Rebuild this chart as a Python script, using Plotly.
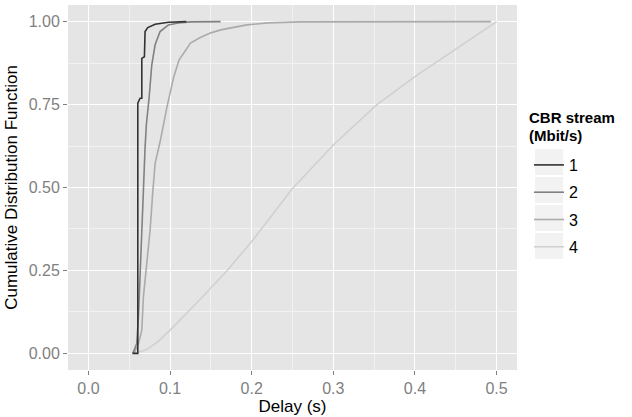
import plotly.graph_objects as go

# CDF curves (delay in s, cumulative fraction)
s1_x = [0.0539, 0.0605, 0.0605, 0.0633, 0.0654, 0.0654, 0.0686, 0.0694, 0.0727, 0.0817, 0.098, 0.12]
s1_y = [0.0, 0.0, 0.754, 0.769, 0.769, 0.889, 0.894, 0.97, 0.982, 0.992, 0.998, 1.0]

s2_x = [0.0545, 0.0592, 0.0613, 0.0633, 0.0654, 0.0674, 0.0694, 0.0710, 0.0743, 0.0776, 0.0817, 0.0878, 0.098, 0.110, 0.125, 0.162]
s2_y = [0.0, 0.03, 0.11, 0.221, 0.352, 0.492, 0.62, 0.69, 0.769, 0.869, 0.93, 0.97, 0.99, 0.996, 0.999, 1.0]

s3_x = [0.056, 0.0613, 0.0654, 0.0674, 0.0715, 0.0756, 0.0784, 0.0817, 0.088, 0.092, 0.096, 0.1046, 0.111, 0.125, 0.137, 0.15, 0.162, 0.194, 0.22, 0.26, 0.35, 0.493]
s3_y = [0.0, 0.03, 0.07, 0.171, 0.272, 0.372, 0.472, 0.573, 0.64, 0.69, 0.74, 0.834, 0.884, 0.935, 0.952, 0.966, 0.975, 0.99, 0.996, 0.999, 1.0, 1.0]

s4_x = [0.055, 0.07, 0.085, 0.1, 0.137, 0.17, 0.2, 0.25, 0.3, 0.353, 0.4, 0.452, 0.5]
s4_y = [0.0, 0.01, 0.035, 0.07, 0.163, 0.25, 0.337, 0.497, 0.628, 0.749, 0.834, 0.92, 1.0]

names = ["1", "2", "3", "4"]
colors = ["#333333", "#818181", "#ababab", "#d0d0d0"]
series = [(s1_x, s1_y), (s2_x, s2_y), (s3_x, s3_y), (s4_x, s4_y)]

x_ticks = [0.0, 0.1, 0.2, 0.3, 0.4, 0.5]
y_ticks = [0.0, 0.25, 0.5, 0.75, 1.0]

legend_title_lines = ["CBR stream", "(Mbit/s)"]

W, H = 632, 417
ML, MR, MT, MB = 68, 115, 5, 47
PW, PH = W - ML - MR, H - MT - MB

def px_x(p):
    return (p - ML) / PW

def px_y(p):
    return (H - MB - p) / PH

fig = go.Figure()
# draw lightest first so darker lines sit on top
for i in [3, 2, 1, 0]:
    xs, ys = series[i]
    fig.add_trace(go.Scatter(x=xs, y=ys, mode="lines", name=names[i],
                             legendgroup=names[i], legendrank=i + 1,
                             line=dict(color=colors[i], width=1.6)))

# legend key backgrounds (ggplot-style grey boxes)
key_centers = [162, 190, 218, 246]
for c in key_centers:
    fig.add_shape(type="rect", xref="paper", yref="paper",
                  x0=px_x(535), x1=px_x(563), y0=px_y(c + 13), y1=px_y(c - 13),
                  fillcolor="#f2f2f2", line=dict(width=0), layer="below")

font = "Liberation Sans, Arial, sans-serif"
for txt, yc in zip(legend_title_lines, [118, 135]):
    fig.add_annotation(text="<b>" + txt + "</b>", xref="paper", yref="paper",
                       x=px_x(527), y=px_y(yc), xanchor="left", yanchor="middle",
                       align="left", showarrow=False, font=dict(size=15, color="black"))

fig.update_layout(
    width=W, height=H,
    margin=dict(l=ML, r=MR, t=MT, b=MB),
    paper_bgcolor="white", plot_bgcolor="#e5e5e5",
    font=dict(family=font, size=16, color="black"),
    legend=dict(
        x=px_x(529), xanchor="left", y=px_y(148), yanchor="top",
        font=dict(size=16), tracegroupgap=3.5, bgcolor="rgba(0,0,0,0)",
    ),
    showlegend=True,
)
fig.update_xaxes(
    range=[-0.025, 0.525], tickvals=x_ticks, tickformat=".1f",
    showgrid=True, gridcolor="white", gridwidth=1.3,
    minor=dict(dtick=0.05, tick0=0, showgrid=True, gridcolor="#f2f2f2", gridwidth=0.6),
    ticks="outside", ticklen=4, tickcolor="#7f7f7f", tickwidth=1,
    tickfont=dict(size=16, color="#7f7f7f"), zeroline=False, showline=False,
    automargin=False,
    title=dict(text="Delay (s)", font=dict(size=17), standoff=2),
)
fig.update_yaxes(
    range=[-0.05, 1.05], tickvals=y_ticks, tickformat=".2f",
    showgrid=True, gridcolor="white", gridwidth=1.3,
    minor=dict(dtick=0.125, tick0=0, showgrid=True, gridcolor="#f2f2f2", gridwidth=0.6),
    ticks="outside", ticklen=4, tickcolor="#7f7f7f", tickwidth=1,
    tickfont=dict(size=16, color="#7f7f7f"), zeroline=False, showline=False,
    automargin=False,
    title=dict(text="Cumulative Distribution Function", font=dict(size=17), standoff=6),
)

fig.write_html("out.html", config={"displayModeBar": False},
               post_script="document.body.style.margin='0';document.body.style.padding='0';")
